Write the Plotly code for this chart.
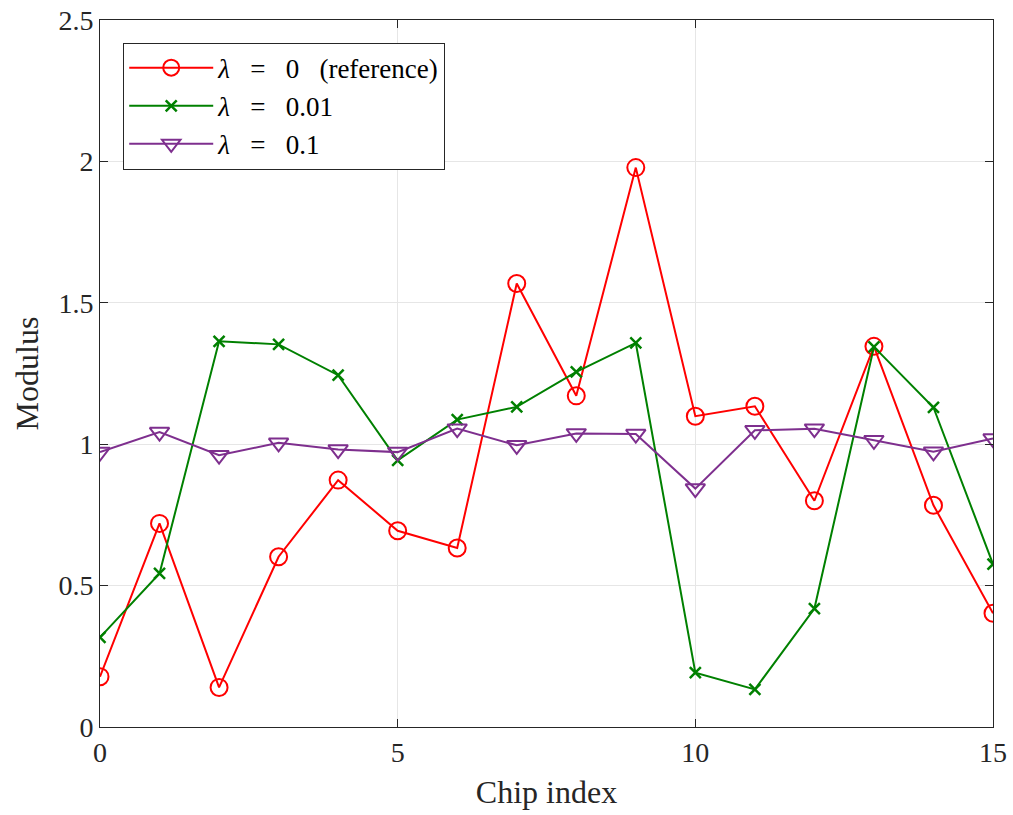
import plotly.graph_objects as go

chip = list(range(16))
lam0 = [0.178, 0.72, 0.140, 0.602, 0.873, 0.694, 0.633, 1.568, 1.171, 1.978,
        1.099, 1.134, 0.80, 1.346, 0.784, 0.402]
lam001 = [0.317, 0.543, 1.364, 1.353, 1.244, 0.943, 1.087, 1.132, 1.256, 1.358,
          0.192, 0.133, 0.419, 1.344, 1.13, 0.576]
lam01 = [0.972, 1.043, 0.961, 1.005, 0.981, 0.972, 1.055, 0.996, 1.038, 1.036,
         0.843, 1.049, 1.055, 1.014, 0.973, 1.020]
names = ["<i>λ</i>   =   0   (reference)", "<i>λ</i>   =   0.01", "<i>λ</i>   =   0.1"]
colors = ["#ff0000", "#008000", "#7e2f8e"]

FONT = "Liberation Serif, Times New Roman, serif"

fig = go.Figure()
fig.add_trace(go.Scatter(x=chip, y=lam0, name=names[0], mode="lines+markers",
                         line=dict(color=colors[0], width=2),
                         marker=dict(symbol="circle-open", size=17,
                                     line=dict(color=colors[0], width=2))))
fig.add_trace(go.Scatter(x=chip, y=lam001, name=names[1], mode="lines+markers",
                         line=dict(color=colors[1], width=2),
                         marker=dict(symbol="x-thin-open", size=11,
                                     line=dict(color=colors[1], width=2.5))))
fig.add_trace(go.Scatter(x=chip, y=lam01, name=names[2], mode="lines+markers",
                         line=dict(color=colors[2], width=2),
                         marker=dict(symbol="triangle-down-open", size=17,
                                     line=dict(color=colors[2], width=2))))

axis_common = dict(showline=True, linecolor="#262626", linewidth=1, mirror="ticks",
                   ticks="inside", ticklen=8, tickcolor="#262626", automargin=False,
                   showgrid=True, gridcolor="#e6e6e6", gridwidth=1, zeroline=False,
                   tickfont=dict(family=FONT, size=28, color="#262626"))

fig.update_layout(
    width=1013, height=815,
    margin=dict(l=100, r=20, t=20, b=88, autoexpand=False),
    paper_bgcolor="white", plot_bgcolor="white",
    font=dict(family=FONT, color="#262626"),
    xaxis=dict(range=[0, 15], tickvals=[0, 5, 10, 15],
               title=dict(text="Chip index", font=dict(family=FONT, size=32), standoff=14),
               **axis_common),
    yaxis=dict(range=[0, 2.5], tickvals=[0, 0.5, 1, 1.5, 2, 2.5],
               ticktext=["0", "0.5", "1", "1.5", "2", "2.5"],
               title=dict(text="Modulus", font=dict(family=FONT, size=32), standoff=10),
               **axis_common),
    legend=dict(x=0.026, y=0.968, xanchor="left", yanchor="top",
                bgcolor="white", bordercolor="#262626", borderwidth=1,
                font=dict(family=FONT, size=27, color="#000000"),
                itemwidth=84, tracegroupgap=0),
    showlegend=True,
)

fig.write_html("out.html", config={"displayModeBar": False},
               post_script="document.body.style.margin='0';document.body.style.overflow='hidden';")
